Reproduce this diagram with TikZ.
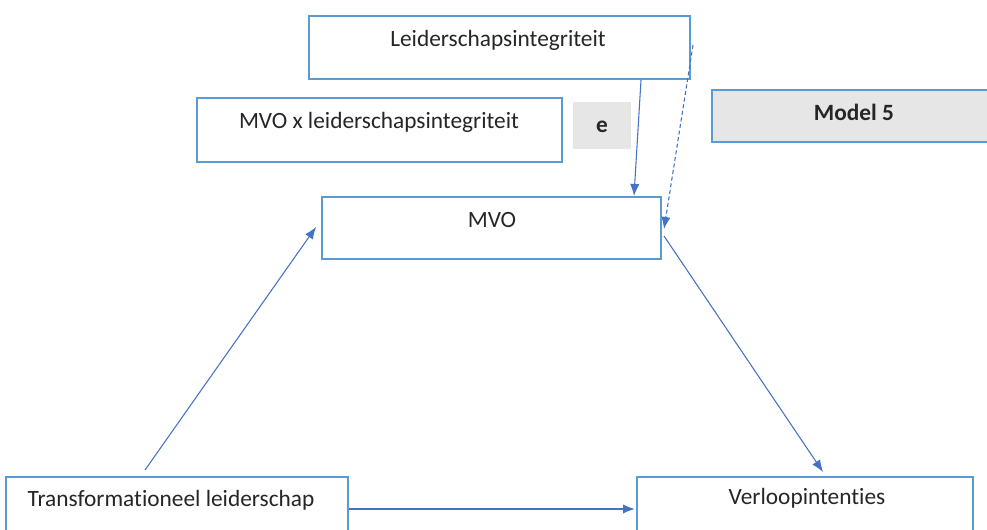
\documentclass[tikz,border=0pt]{standalone}
\usepackage{fontspec}
\setmainfont[Ligatures=NoCommon]{Carlito}
\usetikzlibrary{arrows.meta,calc}
\definecolor{boxblue}{HTML}{5B9BD5}
\definecolor{arrblue}{HTML}{4472C4}
\definecolor{boxgray}{HTML}{E7E6E6}
\tikzset{
  box/.style={draw=boxblue,line width=1.5pt,fill=white,anchor=north west,inner sep=0pt},
  graybox/.style={box,fill=boxgray},
  ebox/.style={fill=boxgray,anchor=north west,inner sep=0pt},
  lbl/.style={font=\fontsize{17.5}{20}\selectfont,text=black!85,inner sep=0pt},
  blbl/.style={lbl,font=\fontsize{17.5}{20}\selectfont\bfseries},
  arr/.style={draw=arrblue,line width=0.8pt,-{Latex[length=9pt,width=7pt]}},
}
\begin{document}
\begin{tikzpicture}[x=0.75pt,y=-0.75pt]
\clip (0,0) rectangle (987,530);
\fill[white] (0,0) rectangle (987,530);
% boxes
\node[box,minimum width=381*0.75pt,minimum height=63*0.75pt] (lead) at (308,15) {};
\node[box,minimum width=365*0.75pt,minimum height=64*0.75pt] (inter) at (196,97) {};
\node[ebox,minimum width=58*0.75pt,minimum height=47*0.75pt] (ebx) at (573,102) {};
\node[graybox,minimum width=290*0.75pt,minimum height=52*0.75pt] (model) at (711,89) {};
\node[box,minimum width=339*0.75pt,minimum height=62*0.75pt] (mvo) at (321,196) {};
\node[box,minimum width=342*0.75pt,minimum height=80*0.75pt] (tl) at (5,476) {};
\node[box,minimum width=336*0.75pt,minimum height=80*0.75pt] (vl) at (636,476) {};
% texts
\node[lbl] (tlead) at (498,40) {Leiderschapsintegriteit};
\node[lbl] (tinter) at (379,122) {MVO x leiderschapsintegriteit};
\node[blbl] (te) at (602,127) {e};
\node[blbl] (tmodel) at (854,112) {Model 5};
\node[lbl] (tmvo) at (492,220) {MVO};
\node[lbl] (ttl) at (171,500) {Transformationeel leiderschap};
\node[lbl] (tvl) at (807,498) {Verloopintenties};
% connectors
\draw[arr] ($(lead.south west)+(333,0)$) -- ($(mvo.north west)+(313,0)$);
\draw[arr,dashed,dash pattern=on 3pt off 2pt] ($(lead.north east)+(2,30)$) -- ($(mvo.north east)+(2,33)$);
\draw[arr] ($(tl.north west)+(140,-6)$) -- ($(mvo.north west)+(-5,31)$);
\draw[arr] ($(mvo.north east)+(2,40)$) -- ($(vl.north west)+(187,-4)$);
\draw[arr,line width=1.2pt] ($(tl.north east)+(0,33)$) -- ($(vl.north west)+(-1,33)$);
\end{tikzpicture}
\end{document}
